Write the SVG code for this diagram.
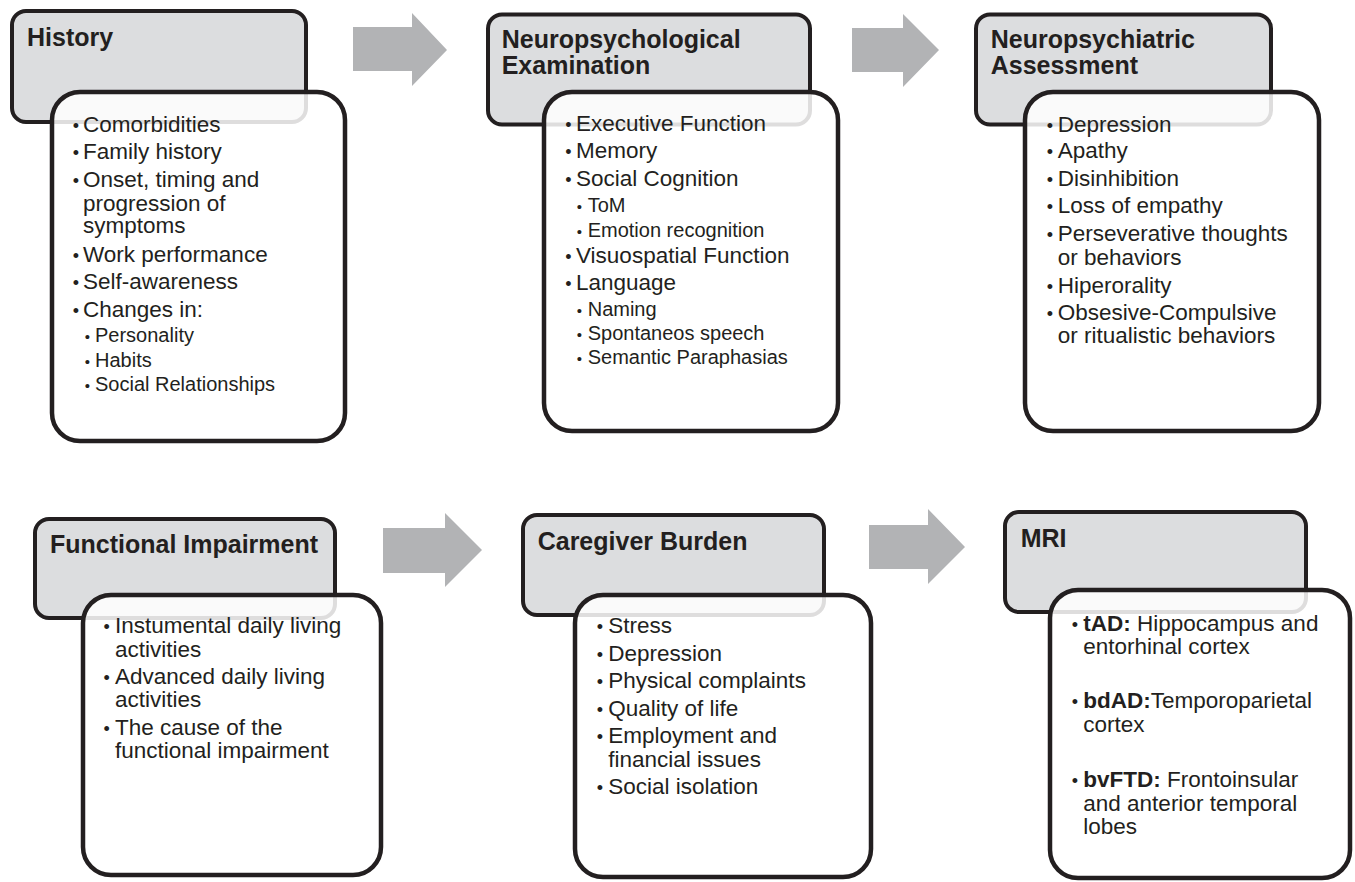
<svg xmlns="http://www.w3.org/2000/svg" width="1355" height="882" viewBox="0 0 1355 882">
<style>
.hd{fill:#dcdddf;stroke:#231f20;stroke-width:4}
.bd{fill:#ffffff;fill-opacity:0.85;stroke:#231f20;stroke-width:4.5}
.ttl{font-family:"Liberation Sans",Arial,sans-serif;font-weight:bold;font-size:25px;fill:#231f20}
.t{font-family:"Liberation Sans",Arial,sans-serif;font-size:22.5px;fill:#231f20}
.s{font-family:"Liberation Sans",Arial,sans-serif;font-size:20px;fill:#231f20}
.b{font-family:"Liberation Sans",Arial,sans-serif;font-size:18px;fill:#231f20;text-anchor:middle}
.sb{font-family:"Liberation Sans",Arial,sans-serif;font-size:15px;fill:#231f20;text-anchor:middle}
.arr{fill:#b2b3b5}
</style>
<rect width="1355" height="882" fill="#ffffff"/>
<g id="connectors">
<polygon class="arr" points="353,27 412,27 412,13 447,50 412,86 412,71 353,71"/>
<polygon class="arr" points="852,28 903,28 903,14 939,50 903,87 903,72 852,72"/>
<polygon class="arr" points="383,528 445,528 445,513 482,550 445,587 445,573 383,573"/>
<polygon class="arr" points="869,525 928,525 928,509 965,547 928,584 928,569 869,569"/>
</g>
<g id="history">
<rect class="hd" x="12" y="11" width="294" height="111" rx="14"/>
<text class="ttl" x="27" y="46">History</text>
<rect class="bd" x="52" y="92" width="293" height="349" rx="28"/>
<text class="b" x="76" y="131.7">•</text><text class="t" x="83" y="131.7">Comorbidities</text>
<text class="b" x="76" y="159.3">•</text><text class="t" x="83" y="159.3">Family history</text>
<text class="b" x="76" y="186.7">•</text><text class="t" x="83" y="186.7">Onset, timing and</text>
<text class="t" x="83" y="210.7">progression of</text>
<text class="t" x="83" y="233">symptoms</text>
<text class="b" x="76" y="261.7">•</text><text class="t" x="83" y="261.7">Work performance</text>
<text class="b" x="76" y="289.3">•</text><text class="t" x="83" y="289.3">Self-awareness</text>
<text class="b" x="76" y="316.7">•</text><text class="t" x="83" y="316.7">Changes in:</text>
<text class="sb" x="87.3" y="342.3">•</text><text class="s" x="95" y="342.3">Personality</text>
<text class="sb" x="87.3" y="366.7">•</text><text class="s" x="95" y="366.7">Habits</text>
<text class="sb" x="87.3" y="390.7">•</text><text class="s" x="95" y="390.7">Social Relationships</text>
</g>
<g id="neuropsych-exam">
<rect class="hd" x="488" y="14.5" width="322" height="110" rx="14"/>
<text class="ttl" x="501.7" y="48.3">Neuropsychological</text>
<text class="ttl" x="501.7" y="74">Examination</text>
<rect class="bd" x="544" y="92" width="294" height="339" rx="28"/>
<text class="b" x="568.3" y="130.7">•</text><text class="t" x="576" y="130.7">Executive Function</text>
<text class="b" x="568.3" y="158.3">•</text><text class="t" x="576" y="158.3">Memory</text>
<text class="b" x="568.3" y="185.7">•</text><text class="t" x="576" y="185.7">Social Cognition</text>
<text class="sb" x="579.3" y="211.7">•</text><text class="s" x="587.7" y="211.7">ToM</text>
<text class="sb" x="579.3" y="236.7">•</text><text class="s" x="587.7" y="236.7">Emotion recognition</text>
<text class="b" x="568.3" y="262.7">•</text><text class="t" x="576" y="262.7">Visuospatial Function</text>
<text class="b" x="568.3" y="290">•</text><text class="t" x="576" y="290">Language</text>
<text class="sb" x="579.3" y="315.7">•</text><text class="s" x="587.7" y="315.7">Naming</text>
<text class="sb" x="579.3" y="340">•</text><text class="s" x="587.7" y="340">Spontaneos speech</text>
<text class="sb" x="579.3" y="364.3">•</text><text class="s" x="587.7" y="364.3">Semantic Paraphasias</text>
</g>
<g id="neuropsychiatric">
<rect class="hd" x="976" y="14.5" width="295" height="110" rx="14"/>
<text class="ttl" x="990.7" y="48.3">Neuropsychiatric</text>
<text class="ttl" x="990.7" y="74">Assessment</text>
<rect class="bd" x="1025" y="92" width="294" height="339" rx="28"/>
<text class="b" x="1050" y="131.7">•</text><text class="t" x="1057.7" y="131.7">Depression</text>
<text class="b" x="1050" y="158.3">•</text><text class="t" x="1057.7" y="158.3">Apathy</text>
<text class="b" x="1050" y="186">•</text><text class="t" x="1057.7" y="186">Disinhibition</text>
<text class="b" x="1050" y="213.3">•</text><text class="t" x="1057.7" y="213.3">Loss of empathy</text>
<text class="b" x="1050" y="240.7">•</text><text class="t" x="1057.7" y="240.7">Perseverative thoughts</text>
<text class="t" x="1057.7" y="265">or behaviors</text>
<text class="b" x="1050" y="292.7">•</text><text class="t" x="1057.7" y="292.7">Hiperorality</text>
<text class="b" x="1050" y="320">•</text><text class="t" x="1057.7" y="320">Obsesive-Compulsive</text>
<text class="t" x="1057.7" y="343.3">or ritualistic behaviors</text>
</g>
<g id="functional">
<rect class="hd" x="35" y="519" width="300" height="99" rx="14"/>
<text class="ttl" x="50" y="552.7">Functional Impairment</text>
<rect class="bd" x="83" y="595" width="298" height="280" rx="28"/>
<text class="b" x="106.7" y="633.3">•</text><text class="t" x="115" y="633.3">Instumental daily living</text>
<text class="t" x="115" y="656.7">activities</text>
<text class="b" x="106.7" y="684.3">•</text><text class="t" x="115" y="684.3">Advanced daily living</text>
<text class="t" x="115" y="707.3">activities</text>
<text class="b" x="106.7" y="735">•</text><text class="t" x="115" y="735">The cause of the</text>
<text class="t" x="115" y="758.3">functional impairment</text>
</g>
<g id="caregiver">
<rect class="hd" x="523" y="515" width="301" height="100" rx="14"/>
<text class="ttl" x="537.7" y="550">Caregiver Burden</text>
<rect class="bd" x="575" y="595" width="296" height="282" rx="28"/>
<text class="b" x="600" y="633.3">•</text><text class="t" x="608.3" y="633.3">Stress</text>
<text class="b" x="600" y="661">•</text><text class="t" x="608.3" y="661">Depression</text>
<text class="b" x="600" y="688.3">•</text><text class="t" x="608.3" y="688.3">Physical complaints</text>
<text class="b" x="600" y="715.7">•</text><text class="t" x="608.3" y="715.7">Quality of life</text>
<text class="b" x="600" y="743.3">•</text><text class="t" x="608.3" y="743.3">Employment and</text>
<text class="t" x="608.3" y="766.7">financial issues</text>
<text class="b" x="600" y="794">•</text><text class="t" x="608.3" y="794">Social isolation</text>
</g>
<g id="mri">
<rect class="hd" x="1005" y="512" width="301" height="100" rx="14"/>
<text class="ttl" x="1020.7" y="546.7">MRI</text>
<rect class="bd" x="1050" y="590" width="300" height="288" rx="28"/>
<text class="b" x="1075" y="630.7">•</text><text class="t" x="1083.3" y="630.7"><tspan font-weight="bold">tAD:</tspan> Hippocampus and</text>
<text class="t" x="1083.3" y="654">entorhinal cortex</text>
<text class="b" x="1075" y="708.3">•</text><text class="t" x="1083.3" y="708.3"><tspan font-weight="bold">bdAD:</tspan>Temporoparietal</text>
<text class="t" x="1083.3" y="731.7">cortex</text>
<text class="b" x="1075" y="786.7">•</text><text class="t" x="1083.3" y="786.7"><tspan font-weight="bold">bvFTD:</tspan> Frontoinsular</text>
<text class="t" x="1083.3" y="810.7">and anterior temporal</text>
<text class="t" x="1083.3" y="834">lobes</text>
</g>
</svg>
